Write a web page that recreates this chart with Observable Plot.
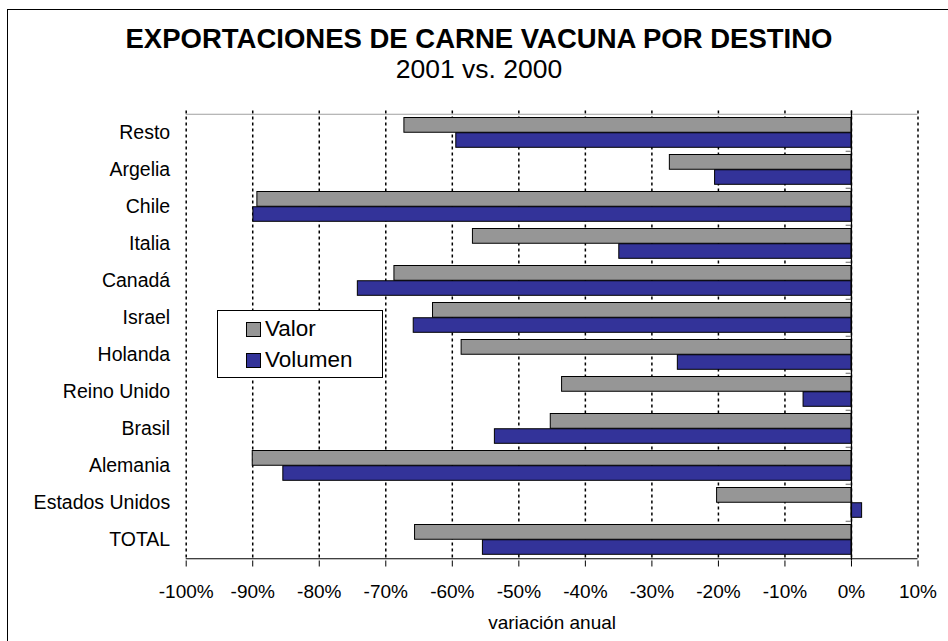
<!DOCTYPE html>
<html>
<head>
<meta charset="utf-8">
<script src="https://cdn.jsdelivr.net/npm/d3@7"></script>
<script src="https://cdn.jsdelivr.net/npm/@observablehq/plot@0.6"></script>
<style>
  html, body { margin: 0; padding: 0; background: #fff; }
  body { font-family: "Liberation Sans", Arial, sans-serif; }
  #wrap { position: relative; width: 948px; height: 641px; overflow: hidden; }
  #border { position: absolute; left: 7px; top: 9px; right: -10px; bottom: -10px;
            border-left: 1.5px solid #000; border-top: 1.5px solid #000; }
  .title { position: absolute; left: 0; width: 958px; text-align: center; line-height: 1; white-space: nowrap; color: #000; }
  #t1 { top: 25px; font-size: 27.5px; font-weight: bold; }
  #t2 { top: 56px; font-size: 26.5px; }
  #chart { position: absolute; left: 0; top: 0; }
  #legend { position: absolute; left: 217px; top: 310px; width: 164px; height: 66px;
            border: 1px solid #000; background: #fff; font-size: 22.5px; }
  .li { position: absolute; left: 28px; height: 24px; line-height: 24px; white-space: nowrap; }
  .sw { display: inline-block; width: 13px; height: 13px; border: 1px solid #000; vertical-align: -1px; margin-right: 4px; }
</style>
</head>
<body>
<div id="wrap">
  <div id="border"></div>
  <div id="chart"></div>
  <div class="title" id="t1">EXPORTACIONES DE CARNE VACUNA POR DESTINO</div>
  <div class="title" id="t2">2001 vs. 2000</div>
  <div id="legend"></div>
</div>
<script>
const categories = ["Resto","Argelia","Chile","Italia","Canadá","Israel","Holanda","Reino Unido","Brasil","Alemania","Estados Unidos","TOTAL"];
const valor   = [-67.2,-27.3,-89.3,-56.9,-68.7,-62.9,-58.6,-43.5,-45.2,-90.0,-20.2,-65.6];
const volumen = [-59.4,-20.5,-89.9,-34.9,-74.2,-65.8,-26.1,-7.2,-53.6,-85.4,1.6,-55.4];
const seriesNames = ["Valor","Volumen"];
const seriesColors = ["#969696","#333399"];
const xTicks = [-100,-90,-80,-70,-60,-50,-40,-30,-20,-10,0,10];
const xLabel = "variación anual";

const rows = categories.flatMap((c, i) => [
  {cat: c, serie: "Valor", v: valor[i]},
  {cat: c, serie: "Volumen", v: volumen[i]}
]);

const W = 948, H = 641, mT = 110.5, mB = 80.5, mL = 185.7, mR = 30.5;
const bw = (H - mT - mB) / categories.length;
const font = '"Liberation Sans", Arial, sans-serif';

const chart = Plot.plot({
  width: W, height: H,
  marginTop: mT, marginBottom: mB, marginLeft: mL, marginRight: mR,
  style: {fontFamily: font, background: "transparent", color: "#000"},
  x: {domain: [-100, 10], ticks: xTicks, tickFormat: d => d + "%", label: null},
  y: {domain: categories, padding: 0, label: null},
  marks: [
    Plot.ruleX(xTicks, {stroke: "#000", strokeWidth: 1.5, strokeDasharray: "3,3"}),
    Plot.ruleY([categories[0]], {y: d => d, x1: -100, x2: 10, dy: -bw / 2, stroke: "#a0a0a0", strokeWidth: 1}),
    Plot.barX(rows.filter(d => d.serie === "Valor"), {y: "cat", x1: 0, x2: "v", fill: seriesColors[0], stroke: "#000", strokeWidth: 1, insetTop: 3.5, insetBottom: bw / 2}),
    Plot.barX(rows.filter(d => d.serie === "Volumen"), {y: "cat", x1: 0, x2: "v", fill: seriesColors[1], stroke: "#000", strokeWidth: 1, insetTop: bw / 2, insetBottom: 3.7}),
    Plot.ruleX([0], {stroke: "#000", strokeWidth: 1.2}),
    Plot.ruleY(categories.slice(1), {y: d => d, x1: -0.8, x2: 0, dy: -bw / 2, stroke: "#666", strokeWidth: 1}),
    Plot.ruleY([categories[categories.length - 1]], {y: d => d, x1: -100, x2: 10, dy: bw / 2, stroke: "#000", strokeWidth: 1.2}),
    Plot.axisX({ticks: xTicks, tickFormat: d => d + "%", tickSize: 6, tickPadding: 17, fontSize: 19, label: null}),
    Plot.axisY({tickSize: 0, tickPadding: 16, fontSize: 19.5, label: null}),
    Plot.text([xLabel], {frameAnchor: "bottom", dy: 62, text: d => d, fontSize: 19, lineAnchor: "middle"})
  ]
});
document.getElementById("chart").appendChild(chart);

const leg = document.getElementById("legend");
seriesNames.forEach((s, i) => {
  const el = document.createElement("div");
  el.className = "li";
  el.style.top = (i === 0 ? 6 : 37) + "px";
  el.innerHTML = `<span class="sw" style="background:${seriesColors[i]}"></span>${s}`;
  leg.appendChild(el);
});
</script>
</body>
</html>
